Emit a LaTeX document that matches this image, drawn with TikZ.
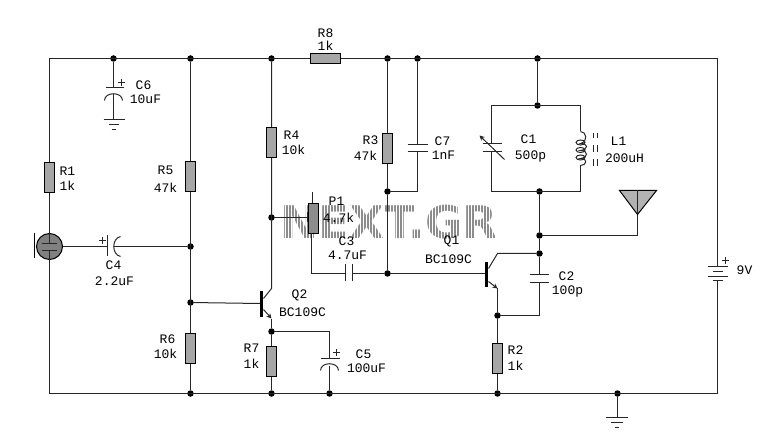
\documentclass[tikz,border=0pt]{standalone}
\usepackage{fontspec}
\setmonofont{Liberation Mono}
\newfontfamily\markfont{DejaVu Sans}
\usetikzlibrary{arrows.meta}
\tikzset{
  wire/.style={line width=1pt,black!85},
  dot/.style={circle,fill=black,inner sep=0pt,minimum size=6.5pt},
  resv/.style={draw,line width=1pt,fill=black!35,inner sep=0pt,minimum width=10pt,minimum height=30pt},
  resh/.style={draw,line width=1pt,fill=black!35,inner sep=0pt,minimum width=30pt,minimum height=10pt},
  lbl/.style={font=\ttfamily\fontsize{13}{13}\selectfont,inner sep=0pt,black},
  tip/.style={-{Stealth[length=5pt,width=5pt]}}
}
\begin{document}
\begin{tikzpicture}[x=1pt,y=-1pt]
  \useasboundingbox (-0.5,-0.5) rectangle (777.5,442.5);
  % Draw watermark
  \node[inner sep=0pt,black!45,xscale=1.01] (mark) at (388.5,221.5)
        {\markfont\bfseries\fontsize{45}{45}\selectfont NEXT.GR};
  \draw[white,line width=1pt,step=3] (280,200) grid (497,243);
  % Draw junctions
  \foreach \name/\x/\y in {t1/113/58,t2/190/58,t3/271/58,t4/387/58,t5/417/58,t6/537/58,
      m1/190/246,m2/190/302,m3/271/217,m4/387/191,m5/387/273,m6/271/331,
      n1/537/105,n2/539/191,n3/539/235,n4/539/253,n5/497/315,
      b1/190/393,b2/271/393,b3/329/393,b4/497/393,b5/617/393}
    \node[dot] (\name) at (\x,\y) {};
  % Draw free ends and corners
  \foreach \name/\x/\y in {tl/49/58,tr/717/58,bl/49/393,br/717/393,
      c6a/113/87,c6b/113/94,gnd6/113/119,gnd/617/417,
      c4a/107/246,c4b/113/246,c5a/329/358,c5b/329/365,
      c7a/417/144,c7b/417/151,c3a/345/273,c3b/352/273,
      c2a/539/274,c2b/539/282,c1a/491/143,c1b/491/151,
      l1a/580/131,l1b/580/165,batp/717/266,batn/717/280,
      q2b/260/303,q2c/263/298,q2e/263/309,q1b/486/273,q1c/488/268,q1e/488/281,
      p1w/307/217,p1t/312/192,p1l/311/273,anta/637/190,antb/637/214,
      tankl/491/105,tankr/580/105,tankd/491/191,tanke/580/191}
    \coordinate (\name) at (\x,\y);
  % Draw resistors
  \node[resv] (r1) at (49,177) {};
  \node[resv] (r5) at (190,176) {};
  \node[resv] (r6) at (190,347.5) {};
  \node[resv] (r4) at (271,142) {};
  \node[resv] (r7) at (271,361) {};
  \node[resv] (r3) at (387,148) {};
  \node[resv] (r2) at (497,358) {};
  \node[resh] (r8) at (325,58) {};
  \node[resv,fill=black!45] (p1) at (313,218) {};
  % Draw microphone
  \node[circle,draw,line width=1pt,fill=black!50,inner sep=0pt,minimum size=26pt] (mic) at (49,246) {};
  \draw[line width=1.2pt] (34,233) -- (34,258);
  \draw[wire] (41,243) -- (56,243) (41,250) -- (56,250);
  \draw[wire] (mic.north) -- (49,243) (49,250) -- (mic.south);
  % Draw wires
  \draw[wire] (r1) -- (tl) -- (r8) (r8) -- (tr) -- (batp) (batn) -- (br) -- (bl) -- (mic.south);
  \draw[wire] (t1) -- (c6a) (c6b) -- (gnd6);
  \draw[wire] (t2) -- (r5) (r5) -- (r6) (r6) -- (b1);
  \draw[wire] (t3) -- (r4) (r4) -- (271,288) -- (q2c);
  \draw[wire] (t4) -- (r3) (r3) -- (m4) -- (m5);
  \draw[wire] (t5) -- (c7a) (c7b) |- (m4);
  \draw[wire] (t6) -- (n1);
  \draw[wire] (n2) -- (n3) -- (n4) -- (c2a);
  \draw[wire] (c2b) |- (n5);
  \draw[wire] (n3) -| (antb);
  \draw[wire] (tankl) -- (tankr) -- (l1a) (l1b) -- (tanke) -- (tankd) -- (c1b) (c1a) -- (tankl);
  \draw[wire] (mic.east) -- (c4a) (c4b) -- (m1);
  \draw[wire] (m2) -- (q2b);
  \draw[wire,tip] (q2e) -- (271,318);
  \draw[wire] (271,318) -- (m6) -- (r7) (r7) -- (b2);
  \draw[wire] (m6) -| (c5a) (c5b) -- (b3);
  \draw[wire] (m3) -- (p1w);
  \draw[wire] (p1t) -- (312,203);
  \draw[wire] (311,233) -- (p1l) -- (c3a) (c3b) -- (m5) -- (q1b);
  \draw[wire] (q1c) -- (497,253) -- (n4);
  \draw[wire,tip] (q1e) -- (497,288);
  \draw[wire] (497,288) -- (n5) -- (r2) (r2) -- (b4);
  \draw[wire] (b5) -- (gnd);
  \draw[wire] (r1) -- (mic.north);
  % Draw capacitor plates
  \draw[wire] (105,87) -- (123,87);
  \draw[wire] (104,100) .. controls (104,91) and (122,91) .. (122,100);
  \draw[wire] (107,235) -- (107,256);
  \draw[wire] (120,236) .. controls (111,238) and (111,254) .. (120,256);
  \draw[wire] (320,358) -- (339,358);
  \draw[wire] (320,370) .. controls (320,361) and (338,361) .. (338,370);
  \draw[wire] (407,144) -- (427,144) (407,151) -- (427,151);
  \draw[wire] (345,264) -- (345,281) (352,264) -- (352,281);
  \draw[wire] (529,274) -- (548,274) (529,282) -- (548,282);
  \draw[wire] (482,143) -- (501,143) (482,151) -- (501,151);
  \draw[wire,tip] (504,159) -- (479,135);
  % Draw coil
  \draw[wire] (l1a) .. controls (586,131) and (588,141) .. (580,143)
        .. controls (588,143) and (588,149) .. (580,150)
        .. controls (588,150) and (588,157) .. (580,158)
        .. controls (588,158) and (586,165) .. (l1b);
  \draw[wire] (580,142) ellipse [x radius=4.5,y radius=2.5];
  \draw[wire] (580,149.5) ellipse [x radius=4.5,y radius=2.5];
  \draw[wire] (580,157) ellipse [x radius=4.5,y radius=2.5];
  \draw[wire] (593,133) -- (593,138) (597,133) -- (597,138);
  \draw[wire] (593,145) -- (593,152) (597,145) -- (597,152);
  \draw[wire] (593,159) -- (593,166) (597,159) -- (597,166);
  % Draw transistors
  \draw[line width=3pt] (261,291) -- (261,316);
  \draw[line width=3pt] (486,262) -- (486,287);
  % Draw antenna
  \draw[line width=1pt,fill=black!30] (619,190) -- (656,190) -- (antb) -- cycle;
  \draw[wire] (anta) -- (antb);
  % Draw P1 wiper
  \draw[wire] (p1w) ++(0,-5) -- ++(0,10);
  % Draw battery
  \draw[wire] (707,266) -- (727,266) (712,271) -- (722,271);
  \draw[wire] (707,276) -- (727,276) (712,280) -- (722,280);
  % Draw grounds
  \draw[wire] (103,119) -- (124,119) (108,124) -- (118,124) (111,129) -- (115,129);
  \draw[wire] (605,417) -- (627,417) (610,422) -- (622,422) (614,427) -- (618,427);
  % Draw plus signs
  \foreach \name/\x/\y in {p6/121/82,p4/102/240,p5/336/352,pb/725/260}
    \draw[wire] (\x-3.5,\y) -- (\x+3.5,\y) (\x,\y-3.5) -- (\x,\y+3.5);
  % Draw labels
  \foreach \name/\x/\y/\txt in {
      r1n/67/171/R1,r1v/67/185/1k,c6n/143/85/C6,c6v/145/99/10uF,
      r5n/165/170/R5,r5v/165/187/47k,r8n/325/33/R8,r8v/325/45/1k,
      r4n/291/135/R4,r4v/293/149/10k,r3n/370/140/R3,r3v/365/155/47k,
      c7n/442/141/C7,c7v/443/155/1nF,p1n/336/201/P1,p1v/338/217/4.7k,
      c3n/346/241/C3,c3v/347/255/4.7uF,q1n/451/241/Q1,q1v/448/259/BC109C,
      c1n/528/139/C1,c1v/530/156/500p,l1n/618/141/L1,l1v/624/158/200uH,
      bat/744/270/9V,c2n/566/276/C2,c2v/567/291/100p,r2n/515/350/R2,r2v/515/365/1k,
      q2n/299/295/Q2,q2v/302/312/BC109C,r7n/251/348/R7,r7v/251/363/1k,
      c5n/363/354/C5,c5v/366/368/100uF,c4n/113/265/C4,c4v/114/281/2.2uF,
      r6n/167/339/R6,r6v/165/353/10k}
    \node[lbl] (\name) at (\x,\y) {\txt};
\end{tikzpicture}
\end{document}
